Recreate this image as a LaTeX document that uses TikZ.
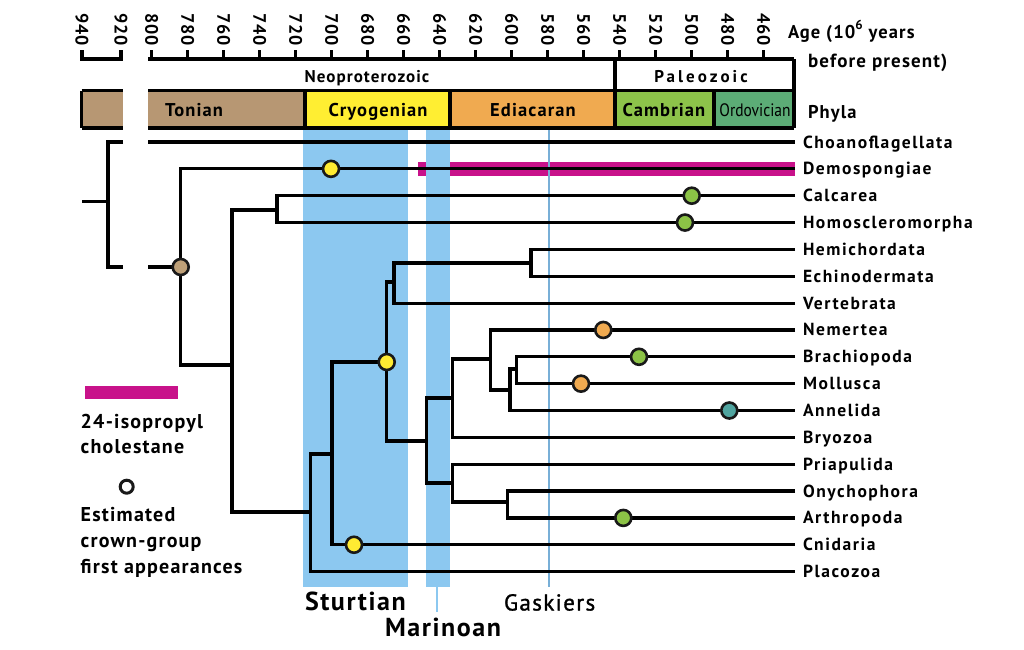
\documentclass[tikz,border=0pt]{standalone}
\usepackage{fontspec}
\setmainfont{PT Sans}
\newfontfamily\lab{PT Sans}[LetterSpace=6]
\newfontfamily\labw{PT Sans}[LetterSpace=9]
\newfontfamily\labx{PT Sans}[LetterSpace=18]
\newfontfamily\labm{PT Sans}[LetterSpace=6,FakeBold=1.2]
\definecolor{tonian}{RGB}{183,151,115}
\definecolor{cryo}{RGB}{255,238,50}
\definecolor{edia}{RGB}{240,170,80}
\definecolor{camb}{RGB}{141,195,74}
\definecolor{ordo}{RGB}{92,172,118}
\definecolor{ice}{RGB}{140,200,240}
\definecolor{gask}{RGB}{120,175,215}
\definecolor{mag}{RGB}{200,18,138}
\definecolor{cyel}{RGB}{255,235,50}
\definecolor{cgrn}{RGB}{140,195,70}
\definecolor{corg}{RGB}{240,170,80}
\definecolor{cteal}{RGB}{80,165,160}
\definecolor{cbrn}{RGB}{190,160,120}
\tikzset{
  tl/.style={line width=3.2pt, line join=miter},
  dot/.style={circle, draw=black!90, line width=2.6pt, minimum size=16pt, inner sep=0pt},
  txt/.style={inner sep=0pt, outer sep=0pt},
  leaf/.style={txt, anchor=base west, font=\labw\bfseries\fontsize{17.5pt}{17.5pt}\selectfont},
  barlab/.style={txt, anchor=base, font=\lab\bfseries\fontsize{18.5pt}{18.5pt}\selectfont},
  tlab/.style={txt, rotate=-90, anchor=east, font=\lab\bfseries\fontsize{18pt}{18pt}\selectfont},
  leg/.style={txt, anchor=base west, font=\lab\bfseries\fontsize{20pt}{20pt}\selectfont},
  ice label/.style={txt, anchor=base west, font=\lab\bfseries\fontsize{26pt}{26pt}\selectfont},
  tick/.style={line width=3.2pt},
}
\begin{document}
\begin{tikzpicture}[x=1pt,y=-1pt]
\useasboundingbox (0,0) rectangle (1024,649);
% glaciations
\fill[ice] (303.3,128) rectangle (407.5,587);
\fill[ice] (426,128) rectangle (450,587);
\coordinate (marA) at (437.3,587);
\coordinate (marB) at (437.3,612);
\draw[ice, line width=2pt] (marA) -- (marB);
\coordinate (gasA) at (549,128);
\coordinate (gasB) at (549,587);
% magenta biomarker
\fill[mag] (418,162) rectangle (426,175.7);
\fill[mag] (450,162) rectangle (795,175.7);
\draw[gask, line width=1.5pt] (gasA) -- (gasB);
% leaves
\foreach \n/\t [count=\i from 0] in {choano/Choanoflagellata, demo/Demospongiae, calc/Calcarea, homo/Homoscleromorpha, hemi/Hemichordata, echi/Echinodermata, vert/Vertebrata, nem/Nemertea, brach/Brachiopoda, moll/Mollusca, anne/Annelida, bryo/Bryozoa, pria/Priapulida, onych/Onychophora, arth/Arthropoda, cnid/Cnidaria, plac/Placozoa}{
  \coordinate (\n) at (795,142+26.85*\i);
  \node[leaf] (t\n) at (803,148+26.85*\i) {\t};
}
% internal nodes
\coordinate (root) at (108,201.5);
\coordinate (rootin) at (82,201.5);
\coordinate (chB) at (123,142);
\coordinate (chL) at (148,142);
\coordinate (meB) at (123,267);
\coordinate (meL) at (148,267);
\coordinate (met) at (180.7,267);
\coordinate (n1) at (232,365);
\coordinate (n2) at (277,210);
\coordinate (n3) at (310.5,512);
\coordinate (n4) at (332,454);
\coordinate (bil) at (386.7,362);
\coordinate (deut) at (394,282);
\coordinate (amb) at (531,263);
\coordinate (prot) at (426.7,441);
\coordinate (spi) at (452.3,398);
\coordinate (lop) at (490.7,359);
\coordinate (n5) at (510,390);
\coordinate (n6) at (516.7,369);
\coordinate (ecd) at (452.3,483);
\coordinate (n7) at (507.7,502);
% tree
\draw[tl] (chL) -- (choano);
\draw[tl] (chB) -| (root) |- (meB);
\draw[tl] (rootin) -- (root);
\draw[tl] (meL) -- (met);
\draw[tl] (demo) -| (met) |- (n1);
\draw[tl] (n2) -| (n1) |- (n3);
\draw[tl] (calc) -| (n2) |- (homo);
\draw[tl] (n4) -| (n3) |- (plac);
\draw[tl] (bil) -| (n4) |- (cnid);
\draw[tl] (deut) -| (bil) |- (prot);
\draw[tl] (amb) -| (deut) |- (vert);
\draw[tl] (hemi) -| (amb) |- (echi);
\draw[tl] (spi) -| (prot) |- (ecd);
\draw[tl] (lop) -| (spi) |- (bryo);
\draw[tl] (nem) -| (lop) |- (n5);
\draw[tl] (n6) -| (n5) |- (anne);
\draw[tl] (brach) -| (n6) |- (moll);
\draw[tl] (pria) -| (ecd) |- (n7);
\draw[tl] (onych) -| (n7) |- (arth);
% first appearances
\node[dot, fill=cbrn] (dmet) at (met) {};
\node[dot, fill=cyel] (ddemo) at (331,168.85) {};
\node[dot, fill=cyel] (dbil) at (bil) {};
\node[dot, fill=cyel] (dcnid) at (354,544.75) {};
\node[dot, fill=cgrn] (dcalc) at (691.7,195.7) {};
\node[dot, fill=cgrn] (dhomo) at (685,222.55) {};
\node[dot, fill=corg] (dnem) at (603.3,329.95) {};
\node[dot, fill=cgrn] (dbrach) at (639,356.8) {};
\node[dot, fill=corg] (dmoll) at (581,383.65) {};
\node[dot, fill=cteal] (danne) at (729.3,410.5) {};
\node[dot, fill=cgrn] (darth) at (623.3,517.9) {};
% time bar
\fill[tonian] (81.7,90.5) rectangle (123,128);
\fill[tonian] (148,90.5) rectangle (305,128);
\fill[cryo] (305,90.5) rectangle (450,128);
\fill[edia] (450,90.5) rectangle (615,128);
\fill[camb] (615,90.5) rectangle (714,128);
\fill[ordo] (714,90.5) rectangle (794,128);
\draw[tl] (81.7,90.5) -- (123,90.5);
\draw[tl] (81.7,128) -- (123,128);
\draw[tl] (81.7,90.5) -- (81.7,128);
\draw[tl] (148,90.5) -- (794,90.5);
\draw[tl] (148,128) -- (794,128);
\foreach \x in {305,450,615,714}{\draw[tl] (\x,90.5) -- (\x,128);}
\draw[tl] (615,59) -- (615,90.5);
\draw[tl] (794,59) -- (794,128);
% axis
\draw[tl] (80,59) -- (123,59);
\draw[tl] (148,59) -- (794,59);
\foreach \x/\a in {82/940,121/920}{
  \draw[tick] (\x,59) -- (\x,50);
  \node[tlab] at (\x,46) {\a};
}
\foreach \a [count=\k from 0] in {800,780,...,460}{
  \draw[tick] ({151.7+36*\k},59) -- ({151.7+36*\k},50);
  \node[tlab] at ({151.7+36*\k},46) {\a};
}
% labels
\node[barlab, font=\lab\bfseries\fontsize{17pt}{17pt}\selectfont] (neo) at (367,82) {Neoproterozoic};
\node[barlab, font=\labx\bfseries\fontsize{17pt}{17pt}\selectfont] (pal) at (701,82) {Paleozoic};
\node[barlab] (ton) at (194,116) {Tonian};
\node[barlab] (cry) at (378,116) {Cryogenian};
\node[barlab] (edi) at (533,116) {Ediacaran};
\node[barlab] (cam) at (664,116) {Cambrian};
\node[txt, anchor=base, font=\fontsize{18pt}{18pt}\selectfont] (ord) at (755,116) {\scalebox{0.86}[1]{Ordovician}};
\node[leg, font=\lab\bfseries\fontsize{18.5pt}{18.5pt}\selectfont] (age) at (788,38) {Age (10\raisebox{0.45em}{\fontsize{13pt}{13pt}\selectfont 6} years};
\node[leg, font=\lab\bfseries\fontsize{19pt}{19pt}\selectfont] (bp) at (808,67) {before present)};
\node[leg, font=\lab\bfseries\fontsize{18.5pt}{18.5pt}\selectfont] (phy) at (808,118) {Phyla};
% legend
\fill[mag] (85,386) rectangle (178,399.3);
\node[leg] (l1) at (80.7,428) {24-isopropyl};
\node[leg] (l2) at (80.7,453) {cholestane};
\node[circle, draw=black!90, line width=3pt, minimum size=13pt, inner sep=0pt] (lc) at (126.7,486.7) {};
\node[leg] (l3) at (80.7,521) {Estimated};
\node[leg] (l4) at (80.7,547) {crown-group};
\node[leg] (l5) at (80.7,573) {first appearances};
% glaciation names
\node[ice label] (stu) at (305,610.5) {Sturtian};
\node[ice label] (mar) at (385,636) {Marinoan};
\node[ice label, font=\labm\fontsize{23pt}{23pt}\selectfont] (gas) at (504,610.5) {Gaskiers};
\end{tikzpicture}
\end{document}
